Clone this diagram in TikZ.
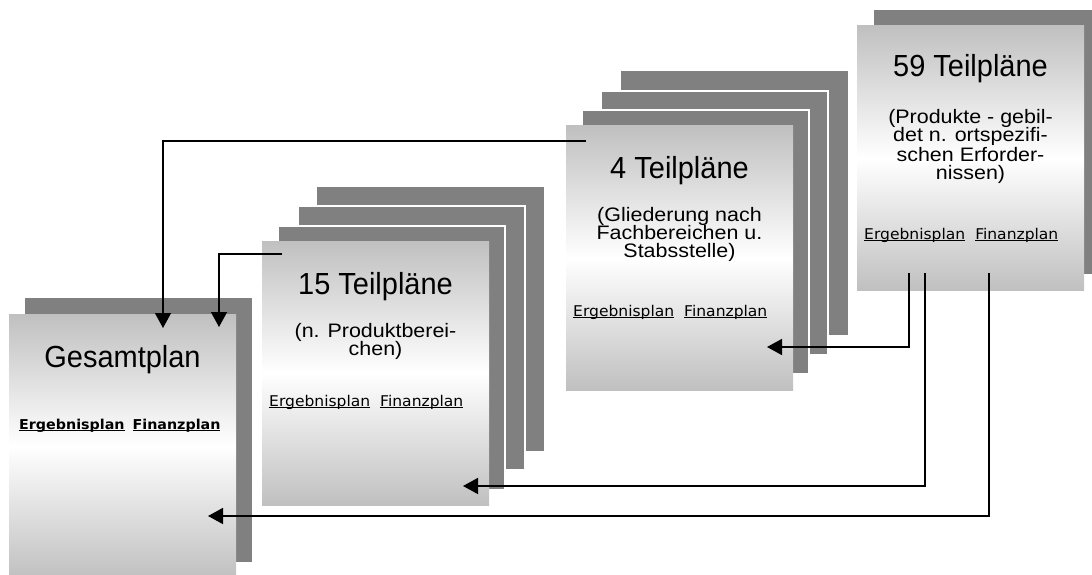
\documentclass[tikz,border=0pt]{standalone}
\usepackage{fontspec}
\setmainfont{Liberation Sans}
\newfontfamily\titlefont[FakeStretch=0.95]{Liberation Sans}
\newfontfamily\subfont[FakeStretch=1.1]{Liberation Sans}
\newfontfamily\labfont[FakeStretch=1.05]{DejaVu Sans}
\usetikzlibrary{calc,arrows.meta}
\definecolor{shadowgray}{RGB}{128,128,128}
\definecolor{boxgray}{RGB}{192,192,192}
\newcommand\myul[1]{\setbox0\hbox{#1}\rlap{\rule[-2.2pt]{\wd0}{1pt}}\box0}
\tikzset{
  front/.style={anchor=north west, minimum width=227pt, minimum height=264pt, inner sep=0pt, outer sep=0pt,
    top color=boxgray, bottom color=boxgray, middle color=white},
  layer/.style={anchor=north west, minimum width=227pt, minimum height=264pt, inner sep=0pt, outer sep=0pt, fill=shadowgray},
  layerw/.style={layer, draw=white, line width=2.6pt},
  titletext/.style={anchor=base, font=\titlefont\fontsize{30.5}{31}\selectfont, inner sep=0pt},
  subtext/.style={anchor=base, font=\subfont\fontsize{19.5}{19.5}\selectfont, inner sep=0pt},
  labtext/.style={anchor=base west, font=\labfont\fontsize{14.8}{15}\selectfont, inner sep=0pt},
  labbold/.style={anchor=base west, font=\labfont\bfseries\fontsize{13.6}{15}\selectfont, inner sep=0pt},
  conn/.style={draw=black, line width=1.5pt},
  arr/.style={conn, -{Triangle[length=15pt,width=16pt]}},
}
\begin{document}
\begin{tikzpicture}[x=1pt,y=-1pt]
\useasboundingbox (0,0) rectangle (1092,575);
\clip (0,0) rectangle (1092,575);

% ---- Gesamtplan
\node[layer] (Gs) at (25,298) {};
\node[front] (G) at (9,314) {};
\node[titletext] (Gt) at ($(G.north west)+(113.5,53)$) {Gesamtplan};
\node[labbold] (Gl) at ($(G.north west)+(10,115)$) {\myul{Ergebnisplan}\hspace{8pt}\myul{Finanzplan}};

% ---- 15 Teilplaene
\node[layer]  (A3) at (317,187) {};
\node[layerw] (A2) at (298,206) {};
\node[layerw] (A1) at (278,226) {};
\node[front]  (A) at (262,241) {};
\node[titletext] (At) at ($(A.north west)+(113.5,53)$) {15 Teilpläne};
\node[subtext] (As1) at ($(A.north west)+(113.5,96)$) {(n. Produktberei-};
\node[subtext] (As2) at ($(A.north west)+(113.5,114.5)$) {chen)};
\node[labtext] (Al) at ($(A.north west)+(7,165)$) {\myul{Ergebnisplan}\hspace{10pt}\myul{Finanzplan}};

% ---- 4 Teilplaene
\node[layer]  (B3) at (621,71) {};
\node[layerw] (B2) at (601,91) {};
\node[layerw] (B1) at (582,110) {};
\node[front]  (B) at (566,126) {};
\node[titletext] (Bt) at ($(B.north west)+(113.5,52)$) {4 Teilpläne};
\node[subtext] (Bs1) at ($(B.north west)+(113.5,95)$) {(Gliederung nach};
\node[subtext] (Bs2) at ($(B.north west)+(113.5,113)$) {Fachbereichen u.};
\node[subtext] (Bs3) at ($(B.north west)+(113.5,131)$) {Stabsstelle)};
\node[labtext] (Bl) at ($(B.north west)+(7,190)$) {\myul{Ergebnisplan}\hspace{10pt}\myul{Finanzplan}};

% ---- 59 Teilplaene
\node[layer] (Cs) at (874,10) {};
\node[front] (C) at (857,26) {};
\node[titletext] (Ct) at ($(C.north west)+(113.5,51)$) {59 Teilpläne};
\node[subtext] (Cs1) at ($(C.north west)+(113.5,98)$) {(Produkte - gebil-};
\node[subtext] (Cs2) at ($(C.north west)+(113.5,116)$) {det n. ortspezifi-};
\node[subtext] (Cs3) at ($(C.north west)+(113.5,135)$) {schen Erforder-};
\node[subtext] (Cs4) at ($(C.north west)+(113.5,153)$) {nissen)};
\node[labtext] (Cl) at ($(C.north west)+(7,213)$) {\myul{Ergebnisplan}\hspace{10pt}\myul{Finanzplan}};

% ---- connector end points
\coordinate (s1) at ($(B.north west)+(20,15)$);
\coordinate (t1) at ($(G.north west)+(154,14)$);
\coordinate (s2) at ($(A.north west)+(20,13)$);
\coordinate (t2) at ($(G.north west)+(210,13)$);
\coordinate (s3) at ($(C.north west)+(52,247)$);
\coordinate (t3) at ($(B.north west)+(201,221)$);
\coordinate (s4) at ($(C.north west)+(68,247)$);
\coordinate (t4) at ($(A.north west)+(201,245)$);
\coordinate (s5) at ($(C.north west)+(132,247)$);
\coordinate (t5) at ($(G.north west)+(199,202)$);

\draw[arr] (s1) -| (t1);
\draw[arr] (s2) -| (t2);
\draw[arr] (s3) |- (t3);
\draw[arr] (s4) |- (t4);
\draw[arr] (s5) |- (t5);
\end{tikzpicture}
\end{document}
